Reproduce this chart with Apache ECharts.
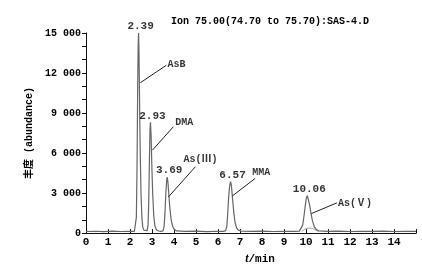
<!DOCTYPE html>
<html>
<head>
<meta charset="utf-8">
<script src="https://cdn.jsdelivr.net/npm/echarts@6/dist/echarts.min.js"></script>
<style>
  html, body { margin: 0; padding: 0; background: #fff; }
  #chart { width: 422px; height: 270px; }
</style>
</head>
<body>
<div id="chart"></div>
<script>
// 色谱图数据 (t/min, 丰度)
var baseStart = [[0, 120], [0.4, 140], [0.8, 110], [1.2, 150], [1.6, 120], [2.0, 140], [2.2, 130]];
var peakAsB = [[2.26, 180], [2.29, 1200], [2.32, 5000], [2.35, 11000], [2.37, 14000], [2.39, 15000], [2.41, 13500],
  [2.43, 10500], [2.46, 6500], [2.50, 3000], [2.54, 1200], [2.58, 450], [2.63, 220], [2.70, 150]];
var peakDMA = [[2.78, 180], [2.82, 600], [2.85, 2200], [2.88, 5200], [2.91, 7800], [2.93, 8300], [2.96, 7300],
  [2.99, 5200], [3.03, 3000], [3.08, 1300], [3.13, 550], [3.20, 250], [3.30, 160], [3.40, 130]];
var peakAs3 = [[3.50, 170], [3.55, 500], [3.59, 1500], [3.63, 3000], [3.67, 4000], [3.69, 4200], [3.72, 3900],
  [3.76, 3000], [3.81, 1900], [3.87, 1000], [3.94, 500], [4.02, 260], [4.12, 160]];
var baseMid1 = [[4.5, 130], [5.0, 150], [5.5, 110], [6.0, 140], [6.25, 130]];
var peakMMA = [[6.35, 180], [6.40, 500], [6.44, 1400], [6.48, 2600], [6.53, 3550], [6.57, 3850], [6.61, 3550],
  [6.66, 2600], [6.72, 1500], [6.78, 760], [6.85, 380], [6.93, 220], [7.05, 150]];
var baseMid2 = [[7.5, 130], [8, 150], [8.5, 120], [9, 140], [9.5, 130], [9.70, 150]];
var peakAs5 = [[9.78, 220], [9.85, 600], [9.91, 1300], [9.97, 2100], [10.02, 2650], [10.06, 2800], [10.10, 2680],
  [10.16, 2150], [10.23, 1450], [10.30, 880], [10.38, 470], [10.47, 260], [10.58, 170]];
var baseEnd = [[11, 130], [11.5, 150], [12, 120], [12.5, 140], [13, 130], [13.5, 150], [14, 120], [14.5, 140], [15, 130]];
// 积分基线 (10.06 峰下)
var integBase = [[9.80, 120], [9.92, 260], [10.05, 360], [10.2, 370], [10.35, 300], [10.48, 190], [10.58, 120]];

// 保留时间 / 峰高
var peakTimes = [2.39, 2.93, 3.69, 6.57, 10.06];
var peakHeights = [15000, 8300, 4200, 3850, 2800];
// 化合物名称及引线
var compounds = ['AsB', 'DMA', 'As(Ⅲ)', 'MMA', 'As(Ⅴ)'];
var leaderFrom = [[2.47, 11270], [3.02, 6220], [3.74, 2700], [6.65, 2780], [10.24, 1460]];
var leaderTo = [[3.65, 12580], [3.97, 7970], [4.97, 4970], [7.69, 4100], [11.41, 2270]];
var nameAnchor = [[3.70, 12660], [4.06, 8270], [4.43, 5490], [7.56, 4540], [11.46, 2200]];

var yTicks = [0, 3000, 6000, 9000, 12000, 15000];

var trace = [].concat(baseStart, peakAsB, peakDMA, peakAs3, baseMid1, peakMMA, baseMid2, peakAs5, baseEnd);

var FONT = '"Liberation Mono", "Noto Sans CJK SC", monospace';

var myChart = echarts.init(document.getElementById('chart'));
var options = {
  backgroundColor: '#fff',
  animation: false,
  title: {
    text: 'Ion 75.00(74.70 to 75.70):SAS-4.D',
    left: 166, top: 11,
    textStyle: { fontFamily: FONT, fontSize: 10, fontWeight: 'bold', color: '#000' }
  },
  grid: { left: 86, right: 6, top: 33, bottom: 33 },
  xAxis: {
    type: 'value', min: 0, max: 15, interval: 1,
    name: '{i|t}/min',
    nameLocation: 'middle', nameGap: 17,
    nameTextStyle: {
      fontFamily: FONT, fontSize: 11, fontWeight: 'bold', color: '#000', padding: [0, 0, 0, 18],
      rich: { i: { fontFamily: '"Liberation Serif", serif', fontStyle: 'italic', fontSize: 12, fontWeight: 'bold', color: '#000' } }
    },
    axisLine: { onZero: false, lineStyle: { color: '#111', width: 1.2 } },
    axisTick: { inside: true, length: 4, lineStyle: { color: '#111' } },
    axisLabel: {
      margin: 4, fontFamily: FONT, fontSize: 11, fontWeight: 'bold', color: '#000',
      formatter: function (v) { return v === 15 ? '' : String(v); }
    },
    splitLine: { show: false }
  },
  yAxis: {
    type: 'value', min: 0, max: 15000, interval: 1000,
    name: '丰度 (abundance)',
    nameLocation: 'middle', nameGap: 43, nameRotate: 90,
    nameTextStyle: { fontFamily: FONT, fontSize: 10, fontWeight: 'bold', color: '#000' },
    axisLine: { show: true, lineStyle: { color: '#111', width: 1 } },
    axisTick: { show: true, length: 4, lineStyle: { color: '#111' } },
    axisLabel: {
      margin: 5, fontFamily: FONT, fontSize: 10, fontWeight: 'bold', color: '#000',
      formatter: function (v) {
        if (yTicks.indexOf(v) < 0) return '';
        return v === 0 ? '0' : String(v).replace(/\B(?=(\d{3})+$)/g, ' ');
      }
    },
    splitLine: { show: false }
  },
  series: [{
    type: 'line',
    data: trace,
    showSymbol: false,
    lineStyle: { color: '#666', width: 1.2 },
    z: 3
  }, {
    type: 'line',
    data: integBase,
    showSymbol: false,
    smooth: true,
    lineStyle: { color: '#999', width: 1 },
    z: 2
  }, {
    // 保留时间标注
    type: 'scatter',
    symbolSize: 0,
    data: peakTimes.map(function (t, i) { return [t, peakHeights[i]]; }),
    label: {
      show: true, position: 'top', distance: 1, offset: [2, 0],
      fontFamily: FONT, fontSize: 11, fontWeight: 'bold', color: '#000',
      formatter: function (p) { return p.value[0].toFixed(2); }
    },
    z: 4
  }, {
    // 化合物名称
    type: 'scatter',
    symbolSize: 0,
    data: nameAnchor.map(function (c, i) { return { value: c, name: compounds[i] }; }),
    label: {
      show: true, position: 'right', distance: 0,
      fontFamily: FONT, fontSize: 10, fontWeight: 'bold', color: '#000',
      formatter: function (p) { return p.name; }
    },
    markLine: {
      silent: true, symbol: 'none', animation: false,
      label: { show: false },
      lineStyle: { color: '#222', width: 1, type: 'solid' },
      data: leaderFrom.map(function (f, i) { return [{ coord: f }, { coord: leaderTo[i] }]; })
    },
    z: 4
  }]
};
myChart.setOption(options);
</script>
</body>
</html>
